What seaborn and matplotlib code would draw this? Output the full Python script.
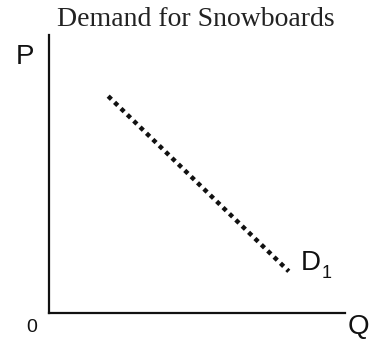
import matplotlib
matplotlib.use("Agg")
import matplotlib.pyplot as plt
import seaborn as sns
import pandas as pd

# Data
quantity = [2.0, 8.1]
price = [7.8, 1.5]
curve_label = "D"
curve_sub = "1"
title = "Demand for Snowboards"

sns.set_theme(style="white")
plt.rcParams['font.family'] = ['Liberation Sans', 'DejaVu Sans']

W, H = 369, 339
fig = plt.figure(figsize=(W / 100, H / 100), dpi=100)
fig.patch.set_facecolor("white")
ax = fig.add_axes([49 / W, 1 - 313 / H, 296 / W, 278 / H])
ax.set_facecolor("white")

df = pd.DataFrame({"Q": quantity, "P": price})
sns.lineplot(data=df, x="Q", y="P", ax=ax, color="#111111", linewidth=3.2,
             linestyle=(0, (1, 1.0)), solid_capstyle="butt", dash_capstyle="butt")

ax.set_xlim(0, 10)
ax.set_ylim(0, 10)
ax.set_xticks([])
ax.set_yticks([])
ax.set_xlabel("")
ax.set_ylabel("")
for s in ["top", "right"]:
    ax.spines[s].set_visible(False)
for s in ["left", "bottom"]:
    ax.spines[s].set_color("#111111")
    ax.spines[s].set_linewidth(1.6)

# label of curve
ax.text(quantity[1] + 0.4, price[1] + 0.05, curve_label, fontsize=20, color="#111111",
        ha="left", va="baseline", family=['Liberation Sans', 'DejaVu Sans'])
ax.text(quantity[1] + 1.1, price[1] - 0.25, curve_sub, fontsize=13, color="#111111",
        ha="left", va="baseline", family=['Liberation Sans', 'DejaVu Sans'])

# axis letters
fig.text(25 / W, 1 - 57 / H, "P", fontsize=20, color="#111111", ha="center", va="center",
         family=['Liberation Sans', 'DejaVu Sans'])
fig.text(358 / W, 1 - 327 / H, "Q", fontsize=20, color="#111111", ha="center", va="center",
         family=['Liberation Sans', 'DejaVu Sans'])
fig.text(32 / W, 1 - 328 / H, "0", fontsize=14, color="#111111", ha="center", va="center",
         family=['Liberation Sans', 'DejaVu Sans'])

fig.text(196 / W, 1 - 19 / H, title, fontsize=20, color="#222222", ha="center", va="center",
         family=['Liberation Serif', 'DejaVu Serif'])

fig.savefig("out.png", dpi=100, facecolor="white")
